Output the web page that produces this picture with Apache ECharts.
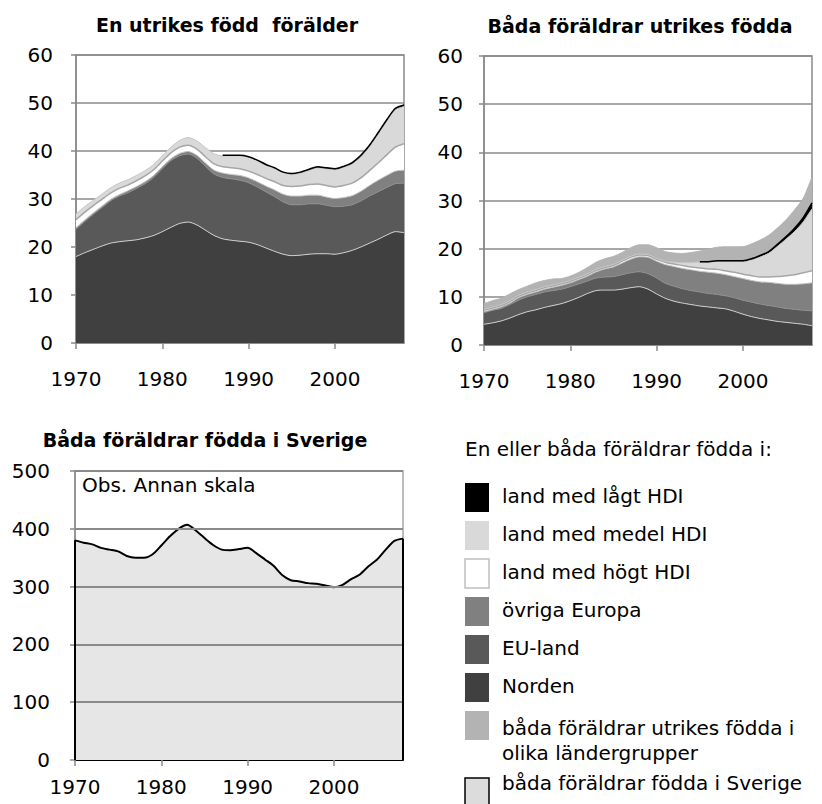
<!DOCTYPE html>
<html>
<head>
<meta charset="utf-8">
<title>Barn efter föräldrarnas födelseland</title>
<script src="https://cdn.jsdelivr.net/npm/echarts@6/dist/echarts.min.js"></script>
<style>
  html, body { margin: 0; padding: 0; background: #fff; }
  #chart { width: 822px; height: 804px; }
</style>
</head>
<body>
<div id="chart"></div>
<script>
// år 1970-2008
var years = ['1970','1971','1972','1973','1974','1975','1976','1977','1978','1979',
             '1980','1981','1982','1983','1984','1985','1986','1987','1988','1989',
             '1990','1991','1992','1993','1994','1995','1996','1997','1998','1999',
             '2000','2001','2002','2003','2004','2005','2006','2007','2008'];

// En utrikes född förälder (tusental)
var enNorden = [18.0,18.8,19.5,20.2,20.8,21.1,21.3,21.5,21.9,22.4,23.2,24.1,24.9,25.2,24.6,23.5,22.4,21.7,21.4,21.2,
                21.0,20.5,19.8,19.1,18.5,18.2,18.3,18.5,18.6,18.6,18.5,18.8,19.3,20.0,20.8,21.6,22.5,23.2,23.0];
var enEU = [5.7,6.5,7.3,8.0,8.8,9.5,10.0,10.7,11.3,12.1,13.1,13.9,14.1,14.2,13.9,13.3,12.8,12.8,12.8,12.7,
            12.4,12.0,11.7,11.4,10.9,10.6,10.5,10.5,10.4,10.1,9.9,9.7,9.5,9.6,9.8,9.9,9.9,10.0,10.3];
var enOvriga = [0.3,0.3,0.3,0.3,0.3,0.3,0.4,0.4,0.4,0.4,0.4,0.4,0.5,0.5,0.6,0.7,0.8,0.9,0.9,1.0,
                1.0,1.1,1.2,1.4,1.6,1.8,1.8,1.8,1.8,1.7,1.7,1.8,1.9,2.0,2.2,2.4,2.5,2.6,2.7];
var enHogt = [1.7,1.6,1.5,1.4,1.3,1.3,1.2,1.2,1.2,1.2,1.2,1.2,1.3,1.3,1.3,1.3,1.3,1.3,1.4,1.4,
              1.4,1.5,1.6,1.7,1.8,2.0,2.1,2.2,2.3,2.4,2.4,2.5,2.6,2.8,3.1,3.6,4.3,5.0,5.5];
var enMedel = [1.2,1.2,1.1,1.1,1.1,1.1,1.1,1.1,1.1,1.1,1.1,1.2,1.4,1.6,1.7,1.9,2.1,2.3,2.5,2.7,
               2.9,2.9,2.8,2.8,2.7,2.5,2.7,3.0,3.4,3.5,3.6,3.8,4.0,4.4,5.0,6.0,7.0,7.8,7.8];
var enLagt = [null,null,null,null,null,null,null,null,null,null,null,null,null,null,null,null,null,0.1,0.1,0.1,
              0.1,0.1,0.1,0.1,0.1,0.2,0.2,0.2,0.2,0.2,0.2,0.2,0.3,0.3,0.3,0.3,0.3,0.3,0.3];

// Båda föräldrar utrikes födda (tusental)
var badaNorden = [4.3,4.6,5.0,5.6,6.3,6.9,7.3,7.8,8.2,8.6,9.2,9.9,10.7,11.3,11.4,11.4,11.6,11.9,12.1,11.6,
                  10.6,9.7,9.1,8.7,8.4,8.1,7.9,7.7,7.5,7.0,6.4,5.9,5.5,5.2,4.9,4.7,4.5,4.3,4.0];
var badaEU = [2.4,2.6,2.6,2.8,3.0,3.1,3.2,3.2,3.1,3.0,2.9,2.8,2.6,2.6,2.7,2.8,3.0,3.1,3.1,3.2,
              3.3,3.1,3.1,3.0,2.9,2.9,2.8,2.8,2.7,2.8,2.9,3.0,3.0,3.0,3.0,2.9,2.9,2.9,3.1];
var badaOvriga = [0.2,0.2,0.3,0.3,0.5,0.5,0.5,0.6,0.7,0.8,0.8,0.9,1.0,1.3,1.7,2.0,2.4,2.8,3.1,3.4,
                  3.5,3.9,4.1,4.2,4.3,4.3,4.4,4.4,4.4,4.4,4.5,4.5,4.6,4.8,4.9,5.0,5.2,5.5,5.8];
var badaHogt = [0.3,0.3,0.3,0.3,0.3,0.3,0.3,0.3,0.3,0.3,0.3,0.3,0.3,0.3,0.3,0.3,0.4,0.4,0.4,0.4,
                0.4,0.5,0.5,0.6,0.6,0.7,0.7,0.8,0.8,0.9,0.9,1.0,1.0,1.1,1.4,1.8,2.0,2.3,2.5];
var badaMedel = [0.2,0.2,0.2,0.2,0.2,0.2,0.2,0.2,0.2,0.2,0.2,0.2,0.2,0.2,0.2,0.2,0.2,0.2,0.2,0.2,
                 0.2,0.2,0.4,0.6,0.9,1.2,1.4,1.7,2.0,2.3,2.6,3.3,4.2,5.0,6.3,7.6,9.0,10.6,12.9];
var badaLagt = [null,null,null,null,null,null,null,null,null,null,null,null,null,null,null,null,null,null,null,null,
                null,null,null,null,null,0.1,0.1,0.1,0.1,0.1,0.2,0.2,0.3,0.3,0.4,0.5,0.7,0.9,1.2];
var badaOlika = [1.2,1.3,1.3,1.4,1.2,1.2,1.4,1.3,1.2,0.9,0.9,1.0,1.3,1.5,1.6,1.7,1.6,1.8,1.9,2.0,
                 2.2,2.0,1.9,1.9,2.1,2.2,2.6,2.8,2.9,2.9,2.9,3.1,3.2,3.4,3.4,3.5,3.8,4.0,5.4];

// Båda föräldrar födda i Sverige (tusental)
var sverige = [380,376,373,367,364,361,353,350,350,356,371,387,400,407,397,384,372,364,363,365,
               367,358,347,336,320,311,309,306,305,302,299,303,313,321,335,347,364,379,383];
var sverigeTicks = [100, 200, 300, 400];

var FONT = '"DejaVu Sans", "Liberation Sans", Arial, sans-serif';

// namn och stil per grupp (legendens ordning)
var groups = [
  { name: 'land med lågt HDI', fill: '#000000', line: '#000000', lw: 1.5 },
  { name: 'land med medel HDI', fill: '#d9d9d9', line: '#c4c4c4', lw: 1 },
  { name: 'land med högt HDI', fill: '#ffffff', line: '#a6a6a6', lw: 1.5, stroke: '#bfbfbf' },
  { name: 'övriga Europa', fill: '#808080', line: '#bdbdbd', lw: 1 },
  { name: 'EU-land', fill: '#595959', line: '#8c8c8c', lw: 1 },
  { name: 'Norden', fill: '#404040', line: '#d0d0d0', lw: 1 },
  { name: 'båda föräldrar utrikes födda i\nolika ländergrupper', fill: '#b3b3b3', line: '#b3b3b3', lw: 1 },
  { name: 'båda föräldrar födda i Sverige', fill: '#dcdcdc', line: '#000000', lw: 2, stroke: '#000000' }
];
function g(n) { return groups.filter(function (x) { return x.name.indexOf(n) === 0; })[0]; }

function areaSeries(grp, data, idx, stack) {
  return {
    name: grp.name, type: 'line', stack: stack, data: data,
    xAxisIndex: idx, yAxisIndex: idx,
    showSymbol: false, smooth: 0.25, silent: true,
    lineStyle: { color: grp.line, width: grp.lw },
    areaStyle: { color: grp.fill, opacity: 1 },
    itemStyle: { color: grp.fill }
  };
}

var gridLine = '#8a8a8a';
function xAx(idx, lineColor, lineW, margin) {
  return {
    type: 'category', gridIndex: idx, data: years, boundaryGap: false,
    axisLine: { show: true, onZero: false, lineStyle: { color: lineColor, width: lineW } },
    axisTick: { show: true, inside: false, length: 6, interval: function (i) { return i % 10 === 0; },
                lineStyle: { color: gridLine, width: 1.5 } },
    axisLabel: { interval: function (i) { return i % 10 === 0; }, margin: margin,
                 color: '#000', fontSize: 20, fontFamily: FONT },
    splitLine: { show: false }
  };
}
function yAx(idx, max, step, margin, splitColor, splitW) {
  return {
    type: 'value', gridIndex: idx, min: 0, max: max, interval: step,
    axisLine: { show: true, lineStyle: { color: gridLine, width: 1.5 } },
    axisTick: { show: true, inside: false, length: 5, lineStyle: { color: gridLine, width: 1.5 } },
    axisLabel: { margin: margin, color: '#000', fontSize: 20, fontFamily: FONT },
    splitLine: { show: true, lineStyle: { color: splitColor, width: splitW } }
  };
}

// legend som grafik
var legendTops = [483, 521, 559, 597, 635, 673, 711, 778];
var graphics = [
  { type: 'text', x: 227, y: 25, style: { text: 'En utrikes född  förälder', font: 'bold 19px ' + FONT, fill: '#000', textAlign: 'center', textVerticalAlign: 'middle' } },
  { type: 'text', x: 640, y: 26, style: { text: 'Båda föräldrar utrikes födda', font: 'bold 19px ' + FONT, fill: '#000', textAlign: 'center', textVerticalAlign: 'middle' } },
  { type: 'text', x: 205, y: 440, style: { text: 'Båda föräldrar födda i Sverige', font: 'bold 19px ' + FONT, fill: '#000', textAlign: 'center', textVerticalAlign: 'middle' } },
  { type: 'text', x: 82, y: 485, z: 10, style: { text: 'Obs. Annan skala', font: '20px ' + FONT, fill: '#000', textVerticalAlign: 'middle' } },
  { type: 'text', x: 465, y: 449, style: { text: 'En eller båda föräldrar födda i:', font: '20px ' + FONT, fill: '#000', textVerticalAlign: 'middle' } }
];
groups.forEach(function (grp, i) {
  var top = legendTops[i];
  graphics.push({
    type: 'rect', shape: { x: 465, y: top, width: 24, height: 29 },
    style: { fill: grp.fill, stroke: grp.stroke || null, lineWidth: grp.stroke ? 1.5 : 0 }
  });
  var multi = grp.name.indexOf('\n') >= 0;
  graphics.push({
    type: 'text', x: 502, y: multi ? 715 : (i === 7 ? 783 : top + 13),
    style: { text: grp.name, font: '20px ' + FONT, fill: '#000', lineHeight: 25,
             textVerticalAlign: multi ? 'top' : 'middle' }
  });
});

var chart = echarts.init(document.getElementById('chart'), null, { renderer: 'svg' });

// stödlinjer genom ytan (som i originalet) + ytans svarta kanter vid 1970 och 2008
var sverigeMarks = sverigeTicks.map(function (v) {
  return { yAxis: v, lineStyle: { color: '#8a8a8a', width: 2, type: 'solid' } };
});
sverigeMarks.push([{ coord: [years[0], 0] }, { coord: [years[0], sverige[0]] }]);
sverigeMarks.push([{ coord: [years[years.length - 1], 0] },
                   { coord: [years[years.length - 1], sverige[sverige.length - 1]] }]);

var option = {
  animation: false,
  backgroundColor: '#fff',
  grid: [
    { left: 76, top: 55, width: 328, height: 288, show: true, borderColor: gridLine, borderWidth: 1.5, backgroundColor: 'transparent' },
    { left: 484, top: 56, width: 328, height: 289, show: true, borderColor: gridLine, borderWidth: 1.5, backgroundColor: 'transparent' },
    { left: 75, top: 471, width: 328, height: 289, show: true, borderColor: '#a6a6a6', borderWidth: 1.5, backgroundColor: 'transparent' }
  ],
  xAxis: [xAx(0, gridLine, 1.5, 26), xAx(1, gridLine, 1.5, 26), xAx(2, '#000', 2, 17)],
  yAxis: [yAx(0, 60, 10, 23, gridLine, 1.5), yAx(1, 60, 10, 21, gridLine, 1.5), yAx(2, 500, 100, 25, gridLine, 2)],
  series: [
    areaSeries(g('Norden'), enNorden, 0, 'en'),
    areaSeries(g('EU-land'), enEU, 0, 'en'),
    areaSeries(g('övriga'), enOvriga, 0, 'en'),
    areaSeries(g('land med högt'), enHogt, 0, 'en'),
    areaSeries(g('land med medel'), enMedel, 0, 'en'),
    areaSeries(g('land med lågt'), enLagt, 0, 'en'),

    areaSeries(g('Norden'), badaNorden, 1, 'bada'),
    areaSeries(g('EU-land'), badaEU, 1, 'bada'),
    areaSeries(g('övriga'), badaOvriga, 1, 'bada'),
    areaSeries(g('land med högt'), badaHogt, 1, 'bada'),
    areaSeries(g('land med medel'), badaMedel, 1, 'bada'),
    areaSeries(g('land med lågt'), badaLagt, 1, 'bada'),
    areaSeries(g('båda föräldrar utrikes'), badaOlika, 1, 'bada'),

    {
      name: g('båda föräldrar födda').name, type: 'line', data: sverige,
      xAxisIndex: 2, yAxisIndex: 2, showSymbol: false, smooth: 0.25, silent: true,
      lineStyle: { color: '#000', width: 2 },
      areaStyle: { color: '#e6e6e6', opacity: 1 },
      markLine: {
        silent: true, symbol: 'none', label: { show: false },
        lineStyle: { color: '#000', width: 2, type: 'solid' },
        data: sverigeMarks
      }
    }
  ],
  graphic: graphics
};

chart.setOption(option);
</script>
</body>
</html>
